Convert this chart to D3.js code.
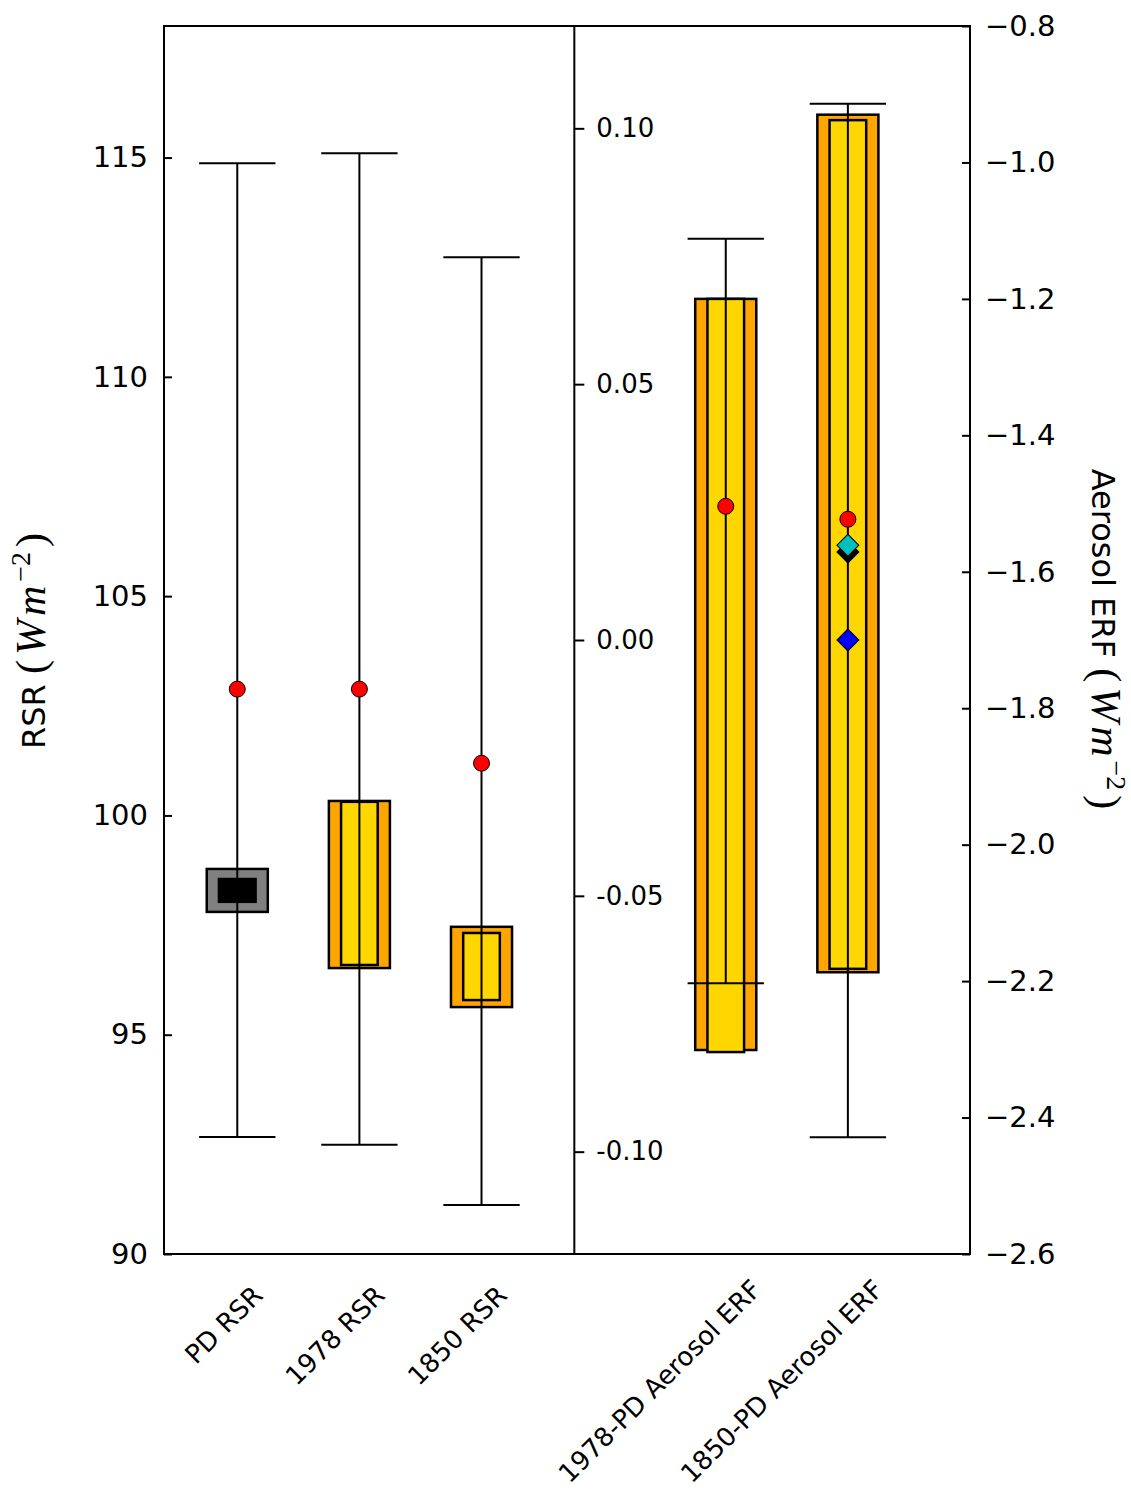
<!DOCTYPE html>
<html>
<head>
<meta charset="utf-8">
<script src="https://cdn.jsdelivr.net/npm/d3@7"></script>
<style>
    body { margin: 0; background: #fff; }
    text { font-family: "DejaVu Sans", sans-serif; }
</style>
</head>
<body>
<div class="svg-container"></div>
<script>
// Values.
const rsrLabels = ["PD RSR", "1978 RSR", "1850 RSR"];
const rsrWhiskerLow = [92.67, 92.49, 91.12];
const rsrWhiskerHigh = [114.87, 115.1, 112.73];
const rsrOuterLow = [97.8, 96.52, 95.63];
const rsrOuterHigh = [98.78, 100.33, 97.46];
const rsrInnerLow = [98.03, 96.59, 95.79];
const rsrInnerHigh = [98.55, 100.31, 97.32];
const rsrMean = [102.88, 102.88, 101.19];

const erfLabels = ["1978-PD Aerosol ERF", "1850-PD Aerosol ERF"];
const erfWhiskerLow = [-2.203, -2.429];
const erfWhiskerHigh = [-1.112, -0.914];
const erfOuterLow = [-2.301, -2.187];
const erfOuterHigh = [-1.2, -0.93];
const erfInnerLow = [-2.304, -2.182];
const erfInnerHigh = [-1.2, -0.938];
const erfMean = [-1.504, -1.523];

// Extra markers on the 1850-PD bar.
const diamondValues = [-1.571, -1.561, -1.7];
const diamondColors = ["#000000", "#00bfbf", "#0000ff"];

const rsrTicks = [90, 95, 100, 105, 110, 115];
const erfTicks = [-2.6, -2.4, -2.2, -2.0, -1.8, -1.6, -1.4, -1.2, -1.0, -0.8];
const midTicks = [-0.1, -0.05, 0, 0.05, 0.1];

const SVG_WIDTH = 1131;
const SVG_HEIGHT = 1492;
const PLOT = { left: 164, right: 970, top: 26, bottom: 1254 };
const BOX_WIDTH = 0.5;
const INNER_WIDTH = 0.3;
const CAP_WIDTH = 0.625;
const DIVIDER_AT = 2.76;

const x = d3.scaleLinear().domain([-0.6, 6]).range([PLOT.left, PLOT.right]);
const yRsr = d3.scaleLinear().domain([90, 118]).range([PLOT.bottom, PLOT.top]);
const yErf = d3.scaleLinear().domain([-2.6, -0.8]).range([PLOT.bottom, PLOT.top]);
const yMid = d3.scaleLinear().domain([-0.12, 0.12]).range([PLOT.bottom, PLOT.top]);

// Build one record per bar so both groups draw the same way.
const bars = rsrLabels
    .map((label, i) => ({
        label,
        pos: i,
        y: yRsr,
        lo: rsrWhiskerLow[i],
        hi: rsrWhiskerHigh[i],
        oLo: rsrOuterLow[i],
        oHi: rsrOuterHigh[i],
        iLo: rsrInnerLow[i],
        iHi: rsrInnerHigh[i],
        mean: rsrMean[i],
        outerFill: i === 0 ? "#808080" : "#ffa500",
        innerFill: i === 0 ? "#000000" : "#ffd700",
        labelShift: 27,
        labelY: 1297,
    }))
    .concat(
        erfLabels.map((label, i) => ({
            label,
            pos: 4 + i,
            y: yErf,
            lo: erfWhiskerLow[i],
            hi: erfWhiskerHigh[i],
            oLo: erfOuterLow[i],
            oHi: erfOuterHigh[i],
            iLo: erfInnerLow[i],
            iHi: erfInnerHigh[i],
            mean: erfMean[i],
            outerFill: "#ffa500",
            innerFill: "#ffd700",
            labelShift: 37,
            labelY: 1291,
        }))
    );

const svg = d3
    .select(".svg-container")
    .append("svg")
    .attr("width", SVG_WIDTH)
    .attr("height", SVG_HEIGHT);

const barGroup = svg
    .selectAll("g.bar")
    .data(bars)
    .enter()
    .append("g")
    .classed("bar", true);

barGroup
    .append("rect")
    .attr("x", (d) => x(d.pos - BOX_WIDTH / 2))
    .attr("width", x(BOX_WIDTH) - x(0))
    .attr("y", (d) => d.y(d.oHi))
    .attr("height", (d) => d.y(d.oLo) - d.y(d.oHi))
    .attr("fill", (d) => d.outerFill)
    .attr("stroke", "#000")
    .attr("stroke-width", 2.5);

barGroup
    .append("rect")
    .attr("x", (d) => x(d.pos - INNER_WIDTH / 2))
    .attr("width", x(INNER_WIDTH) - x(0))
    .attr("y", (d) => d.y(d.iHi))
    .attr("height", (d) => d.y(d.iLo) - d.y(d.iHi))
    .attr("fill", (d) => d.innerFill)
    .attr("stroke", "#000")
    .attr("stroke-width", 2.5);

// Whisker line and its two caps.
barGroup
    .append("line")
    .attr("x1", (d) => x(d.pos))
    .attr("x2", (d) => x(d.pos))
    .attr("y1", (d) => d.y(d.lo))
    .attr("y2", (d) => d.y(d.hi))
    .attr("stroke", "#000")
    .attr("stroke-width", 2);

barGroup
    .selectAll("line.cap")
    .data((d) => [d.lo, d.hi].map((v) => ({ v, d })))
    .enter()
    .append("line")
    .classed("cap", true)
    .attr("x1", (c) => x(c.d.pos - CAP_WIDTH / 2))
    .attr("x2", (c) => x(c.d.pos + CAP_WIDTH / 2))
    .attr("y1", (c) => c.d.y(c.v))
    .attr("y2", (c) => c.d.y(c.v))
    .attr("stroke", "#000")
    .attr("stroke-width", 2);

// Diamonds on the last bar.
const diamond = d3.symbol().type(d3.symbolSquare).size(240);
svg.selectAll("path.diamond")
    .data(diamondValues)
    .enter()
    .append("path")
    .classed("diamond", true)
    .attr("d", diamond)
    .attr("transform", (v) => "translate(" + x(5) + "," + yErf(v) + ") rotate(45)")
    .attr("fill", (_, i) => diamondColors[i])
    .attr("stroke", "#000")
    .attr("stroke-width", 1);

barGroup
    .append("circle")
    .attr("cx", (d) => x(d.pos))
    .attr("cy", (d) => d.y(d.mean))
    .attr("r", 8)
    .attr("fill", "#ff0000")
    .attr("stroke", "#000")
    .attr("stroke-width", 1);

// Frame and divider.
svg.append("rect")
    .attr("x", PLOT.left)
    .attr("y", PLOT.top)
    .attr("width", PLOT.right - PLOT.left)
    .attr("height", PLOT.bottom - PLOT.top)
    .attr("fill", "none")
    .attr("stroke", "#000")
    .attr("stroke-width", 2);

svg.append("line")
    .attr("x1", x(DIVIDER_AT))
    .attr("x2", x(DIVIDER_AT))
    .attr("y1", PLOT.top)
    .attr("y2", PLOT.bottom)
    .attr("stroke", "#000")
    .attr("stroke-width", 2);

// Axes.
const leftAxis = svg
    .append("g")
    .attr("transform", "translate(" + PLOT.left + ",0)")
    .call(d3.axisLeft(yRsr).tickValues(rsrTicks).tickSize(-8).tickPadding(16));

const rightAxis = svg
    .append("g")
    .attr("transform", "translate(" + PLOT.right + ",0)")
    .call(
        d3.axisRight(yErf)
            .tickValues(erfTicks)
            .tickFormat(d3.format(".1f"))
            .tickSize(-8)
            .tickPadding(15)
    );

const midAxis = svg
    .append("g")
    .attr("transform", "translate(" + x(DIVIDER_AT) + ",0)")
    .call(
        d3.axisRight(yMid)
            .tickValues(midTicks)
            .tickFormat((d) => d3.format(".2f")(d).replace("\u2212", "-"))
            .tickSize(10)
            .tickPadding(12)
    );

[leftAxis, rightAxis, midAxis].forEach((axis) => {
    axis.select(".domain").remove();
    axis.selectAll(".tick line").attr("stroke", "#000").attr("stroke-width", 2);
    axis.selectAll(".tick text")
        .attr("fill", "#000")
        .attr("font-family", "DejaVu Sans")
        .attr("font-size", 29);
});
midAxis.selectAll(".tick text").attr("font-size", 26);

// Category labels, rotated.
svg.selectAll("text.xlabel")
    .data(bars)
    .enter()
    .append("text")
    .classed("xlabel", true)
    .attr("transform", (d) => "translate(" + (x(d.pos) + d.labelShift) + "," + d.labelY + ") rotate(-45)")
    .attr("text-anchor", "end")
    .attr("font-size", 26)
    .text((d) => d.label);

// Axis titles with the unit written like math text.
function axisTitle(g, name) {
    const t = g.append("text").attr("text-anchor", "middle").attr("font-size", 32);
    t.append("tspan").text(name + " ");
    const serif = "Liberation Serif, DejaVu Serif, serif";
    t.append("tspan").attr("font-family", serif).attr("font-size", 42).text("(");
    t.append("tspan").attr("font-family", serif).attr("font-style", "italic")
        .attr("font-size", 42).attr("dx", 5).text("W");
    t.append("tspan").attr("font-family", serif).attr("font-style", "italic")
        .attr("font-size", 42).attr("dx", 4).text("m");
    t.append("tspan").attr("font-family", serif).attr("font-size", 28)
        .attr("dx", 4).attr("dy", -15).text("\u22122");
    t.append("tspan").attr("font-family", serif).attr("font-size", 42)
        .attr("dx", 5).attr("dy", 15).text(")");
}

axisTitle(svg.append("g").attr("transform", "translate(45,641) rotate(-90)"), "RSR");
axisTitle(svg.append("g").attr("transform", "translate(1092,639) rotate(90)"), "Aerosol ERF");
</script>
</body>
</html>
